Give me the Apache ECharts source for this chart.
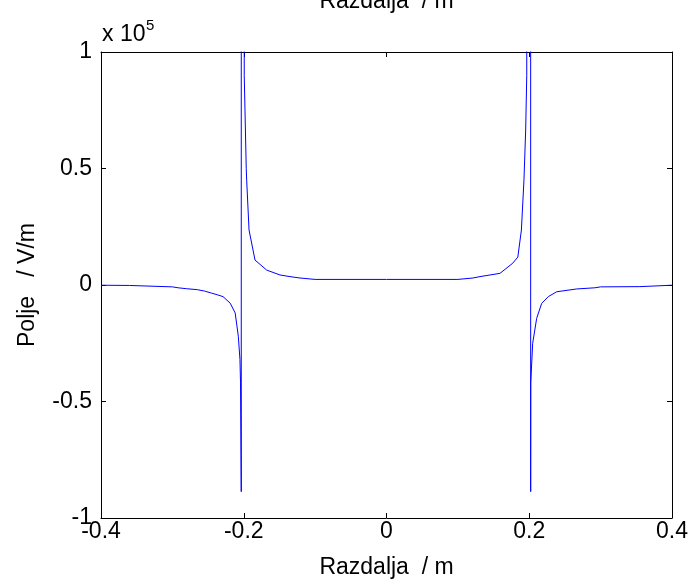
<!DOCTYPE html>
<html>
<head>
<meta charset="utf-8">
<script src="https://cdn.jsdelivr.net/npm/echarts@6/dist/echarts.min.js"></script>
<style>
  html, body { margin: 0; padding: 0; background: #fff; }
  #chart { width: 692px; height: 584px; }
</style>
</head>
<body>
<div id="chart"></div>
<script>
// distance along the axis, m
var razdalja = [
    -0.4, -0.36, -0.358, -0.30, -0.292, -0.28, -0.265, -0.255, -0.245, -0.237,
    -0.229, -0.219, -0.212, -0.2076, -0.2053, -0.2045, -0.2035, -0.2032,
    -0.1998, -0.1993, -0.1965, -0.1959, -0.1926, -0.1842, -0.1679, -0.1492,
    -0.1352, -0.1212, -0.10, 0, 0.10, 0.121, 0.131, 0.159, 0.177, 0.184,
    0.189, 0.1926, 0.195, 0.1965, 0.197, 0.2018, 0.202, 0.2021, 0.2048,
    0.2104, 0.2174, 0.2267, 0.2384, 0.2665, 0.292, 0.30, 0.355, 0.357, 0.4
];
// field strength, x 10^5 V/m
var polje = [
    -0.001, -0.002, -0.007, -0.008, -0.012, -0.016, -0.02, -0.026, -0.035, -0.042,
    -0.05, -0.078, -0.12, -0.22, -0.32, -0.42, -0.887, 20,
    20, 0.9, 0.5, 0.45, 0.236, 0.107, 0.064, 0.043,
    0.036, 0.03, 0.024, 0.024, 0.024, 0.03, 0.036, 0.05, 0.094, 0.12,
    0.236, 0.45, 0.665, 0.9, 20, 20, -0.887, -0.42, -0.25,
    -0.143, -0.079, -0.05, -0.029, -0.017, -0.012, -0.008, -0.007, -0.002, -0.001
];
var xTicks = [-0.4, -0.2, 0, 0.2, 0.4];
var yTicks = [-1, -0.5, 0, 0.5, 1];

var chart = echarts.init(document.getElementById('chart'));
var font = 'Liberation Sans, Arial, sans-serif';
var fs = 23;
var data = razdalja.map(function (x, i) { return [x, polje[i]]; });

var tickFmt = function (v) {
    return String(Math.round(v * 10) / 10);
};

var boxAxis = {
    axisLine: { show: true, onZero: false, lineStyle: { color: '#000', width: 1 } },
    axisTick: { show: true, inside: true, length: 5, lineStyle: { color: '#000' } },
    axisLabel: { show: false },
    splitLine: { show: false }
};

option = {
    animation: false,
    backgroundColor: '#fff',
    grid: { left: 101, right: 20, top: 52, bottom: 66 },
    xAxis: [
        {
            type: 'value', min: xTicks[0], max: xTicks[xTicks.length - 1], interval: 0.2,
            name: 'Razdalja  / m', nameLocation: 'middle', nameGap: 38,
            nameTextStyle: { fontFamily: font, fontSize: fs, color: '#000' },
            axisLine: { show: true, onZero: false, lineStyle: { color: '#000', width: 1 } },
            axisTick: { show: true, inside: true, length: 5, lineStyle: { color: '#000' } },
            axisLabel: {
                fontFamily: font, fontSize: fs, color: '#000', margin: 2,
                formatter: tickFmt, showMinLabel: true, showMaxLabel: true
            },
            splitLine: { show: false }
        },
        Object.assign({ type: 'value', position: 'top', min: -0.4, max: 0.4, interval: 0.2 }, boxAxis)
    ],
    yAxis: [
        {
            type: 'value', min: yTicks[0], max: yTicks[yTicks.length - 1], interval: 0.5,
            name: 'Polje   / V/m', nameLocation: 'middle', nameGap: 62,
            nameTextStyle: { fontFamily: font, fontSize: fs, color: '#000' },
            axisLine: { show: true, onZero: false, lineStyle: { color: '#000', width: 1 } },
            axisTick: { show: true, inside: true, length: 5, lineStyle: { color: '#000' } },
            axisLabel: {
                fontFamily: font, fontSize: fs, color: '#000', margin: 9,
                formatter: tickFmt, showMinLabel: true, showMaxLabel: true
            },
            splitLine: { show: false }
        },
        Object.assign({ type: 'value', position: 'right', min: -1, max: 1, interval: 0.5 }, boxAxis)
    ],
    graphic: [
        {
            // title, cut off by the top edge as in the original figure
            type: 'text',
            x: 386.5,
            y: -10,
            style: {
                text: 'Razdalja  / m',
                fontFamily: font, fontSize: fs, fill: '#000',
                align: 'center', verticalAlign: 'top'
            }
        },
        {
            type: 'text',
            x: 102,
            y: 46,
            style: {
                text: 'x 10',
                fontFamily: font, fontSize: fs, fill: '#000',
                align: 'left', verticalAlign: 'bottom'
            }
        },
        {
            type: 'text',
            x: 146,
            y: 33,
            style: {
                text: '5',
                fontFamily: font, fontSize: 15, fill: '#000',
                align: 'left', verticalAlign: 'bottom'
            }
        }
    ],
    series: [{
        type: 'line',
        data: data,
        clip: true,
        showSymbol: false,
        symbol: 'none',
        lineStyle: { color: '#0000ff', width: 1 }
    }]
};

chart.setOption(option);
</script>
</body>
</html>
